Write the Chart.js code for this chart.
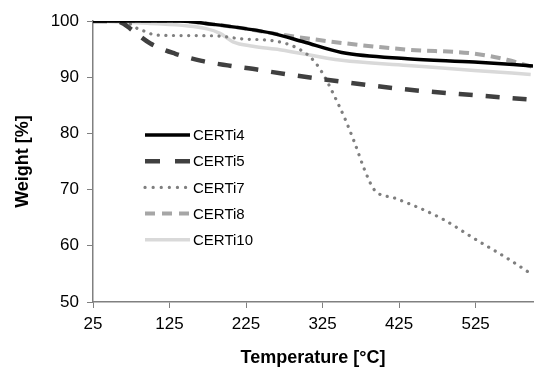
<!DOCTYPE html>
<html>
<head>
<meta charset="utf-8">
<script src="https://cdn.jsdelivr.net/npm/chart.js@4"></script>
<style>
  html, body { margin: 0; padding: 0; background: #fff; }
  #wrap { width: 550px; height: 379px; }
</style>
</head>
<body>
<div id="wrap"><canvas id="tga"></canvas></div>
<script>
// values (temperature in °C, weight in %)
const xTicks = [25, 125, 225, 325, 425, 525];

const certi4T = [25, 90, 139, 182, 226, 260, 300, 350, 436, 523, 600];
const certi4W = [100, 100, 100, 99.4, 98.6, 97.8, 96.3, 94.4, 93.3, 92.7, 92.0];

const certi5T = [25, 55, 65, 74, 100, 132, 167, 201, 243, 260, 350, 436, 523, 600];
const certi5W = [100, 100, 99.5, 98.6, 96.0, 94.2, 92.9, 92.1, 91.3, 90.9, 89.2, 87.8, 86.8, 86.0];

const certi7T = [25, 64, 84, 96, 106, 165, 191, 221, 260, 297, 315, 328, 341, 354, 367, 380, 393, 419, 480, 523, 566, 600];
const certi7W = [100, 100, 98.6, 98.0, 97.5, 97.4, 97.3, 96.8, 96.5, 94.8, 92.7, 90.0, 86.5, 82.7, 78.3, 73.5, 69.9, 68.5, 64.9, 61.3, 57.8, 54.8];

const certi8T = [25, 90, 139, 182, 226, 260, 350, 436, 523, 566, 600];
const certi8W = [100, 100, 100, 99.4, 98.6, 97.8, 96.1, 94.9, 94.2, 93.1, 91.8];

const certi10T = [25, 96, 174, 191, 208, 234, 269, 350, 436, 523, 597];
const certi10W = [100, 99.6, 98.6, 97.8, 96.3, 95.5, 94.9, 93.0, 92.1, 91.2, 90.5];

function pts(t, w) {
    return t.map((v, i) => ({ x: v, y: w[i] }));
}

// legend drawn inside the plot, like the original figure
const insideLegend = {
    id: 'insideLegend',
    afterDatasetsDraw(chart) {
        const ctx = chart.ctx;
        const x0 = 145, x1 = 190, yStart = 135, gap = 26.2;
        ctx.save();
        ctx.font = '15px "Liberation Sans", Arial, sans-serif';
        ctx.textBaseline = 'middle';
        chart.data.datasets.forEach((ds, i) => {
            const y = yStart + i * gap;
            ctx.beginPath();
            ctx.strokeStyle = ds.borderColor;
            ctx.lineWidth = ds.borderWidth;
            ctx.lineCap = ds.borderCapStyle || 'butt';
            ctx.setLineDash(ds.legendDash || ds.borderDash || []);
            ctx.moveTo(x0, y);
            ctx.lineTo(x1, y);
            ctx.stroke();
            ctx.setLineDash([]);
            ctx.fillStyle = '#000';
            ctx.fillText(ds.label, x1 + 3, y + 1);
        });
        ctx.restore();
    }
};

const ctx = document.getElementById('tga').getContext('2d');
const myChart = new Chart(ctx, {
    type: 'line',
    data: {
        datasets: [
            { label: 'CERTi4', data: pts(certi4T, certi4W), borderColor: '#000000', borderWidth: 3.5 },
            { label: 'CERTi5', data: pts(certi5T, certi5W), borderColor: '#404040', borderWidth: 4.5, borderDash: [14, 13], legendDash: [15, 15] },
            { label: 'CERTi7', data: pts(certi7T, certi7W), borderColor: '#7f7f7f', borderWidth: 3.2, borderDash: [0.1, 7.5], borderCapStyle: 'round', legendDash: [0.1, 8] },
            { label: 'CERTi8', data: pts(certi8T, certi8W), borderColor: '#a6a6a6', borderWidth: 4, borderDash: [10, 6], legendDash: [10, 7] },
            { label: 'CERTi10', data: pts(certi10T, certi10W), borderColor: '#d9d9d9', borderWidth: 3.5 }
        ]
    },
    options: {
        responsive: true,
        maintainAspectRatio: false,
        animation: false,
        parsing: false,
        elements: {
            point: { radius: 0 },
            line: { cubicInterpolationMode: 'monotone', fill: false }
        },
        layout: { padding: { left: 0, right: 17, top: 21, bottom: 0 } },
        plugins: {
            legend: { display: false },
            tooltip: { enabled: false }
        },
        scales: {
            x: {
                type: 'linear',
                min: 25,
                max: 600,
                afterBuildTicks: (scale) => { scale.ticks = xTicks.map(v => ({ value: v })); },
                afterFit: (scale) => { scale.height = 77; },
                grid: { display: true, drawOnChartArea: false, drawTicks: true, tickLength: 6, color: '#808080' },
                border: { color: '#808080', width: 1.5 },
                ticks: { color: '#000', padding: 6, maxRotation: 0, font: { family: '"Liberation Sans", Arial, sans-serif', size: 17 } },
                title: {
                    display: true,
                    text: 'Temperature [°C]',
                    color: '#000',
                    padding: { top: 0, bottom: 10 },
                    font: { family: '"Liberation Sans", Arial, sans-serif', size: 18, weight: 'bold' }
                }
            },
            y: {
                min: 50,
                max: 100,
                afterFit: (scale) => { scale.width = 93; },
                grid: { display: true, drawOnChartArea: false, drawTicks: true, tickLength: 6, color: '#808080' },
                border: { color: '#808080', width: 1.5 },
                ticks: { stepSize: 10, color: '#000', padding: 8, font: { family: '"Liberation Sans", Arial, sans-serif', size: 17 } },
                title: {
                    display: true,
                    text: 'Weight [%]',
                    color: '#000',
                    padding: { top: 12, bottom: 0 },
                    font: { family: '"Liberation Sans", Arial, sans-serif', size: 18, weight: 'bold' }
                }
            }
        }
    },
    plugins: [insideLegend]
});
</script>
</body>
</html>
